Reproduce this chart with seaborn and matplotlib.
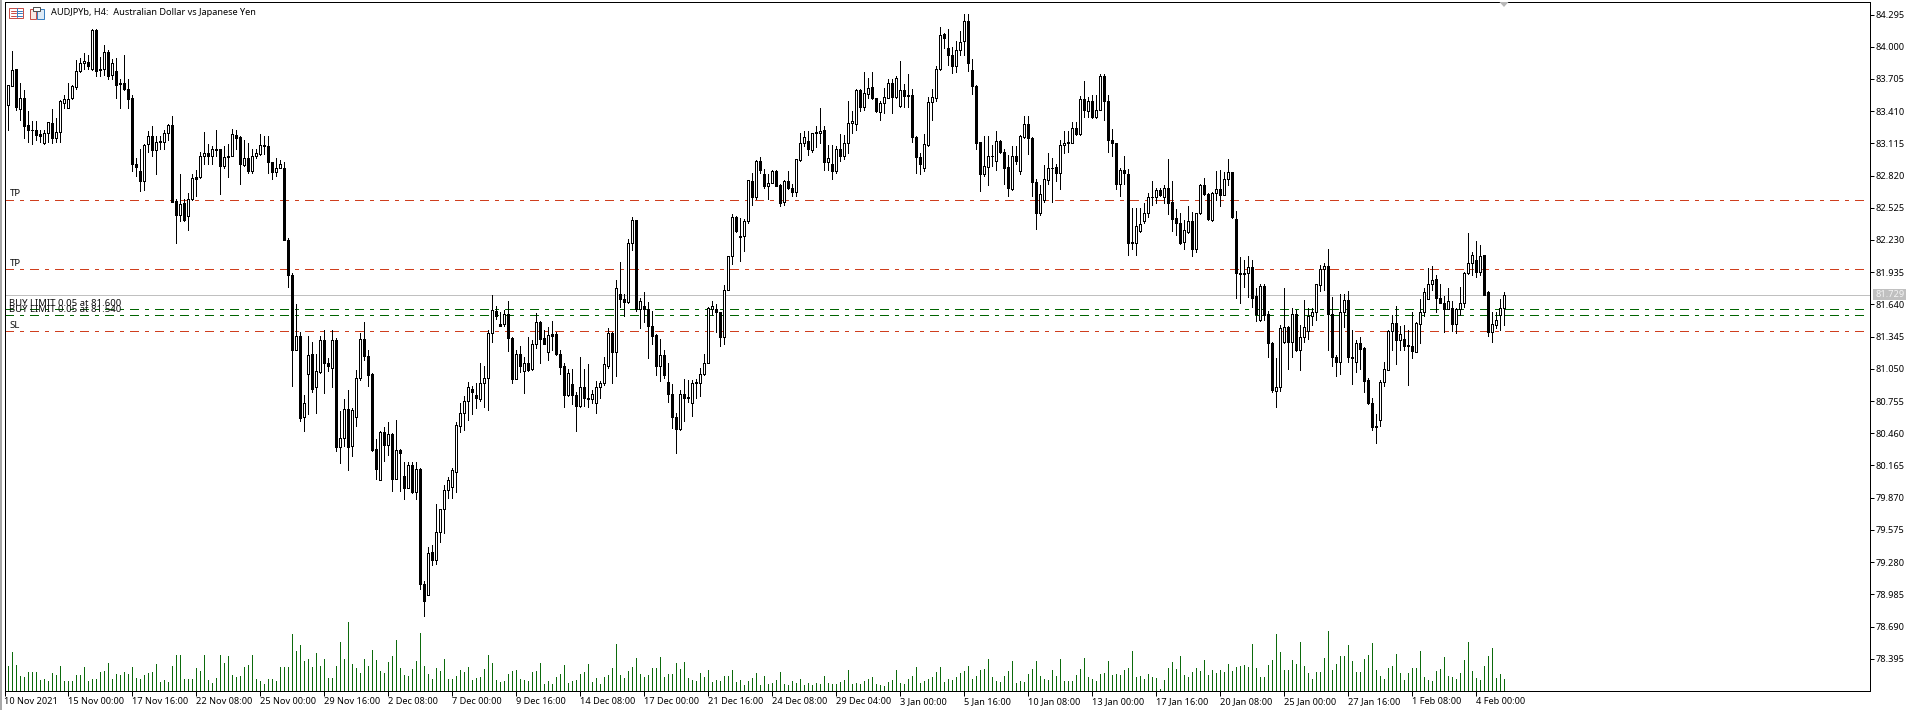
import numpy as np
import pandas as pd
import seaborn as sns
from matplotlib import pyplot as plt
from matplotlib.patches import Polygon, Rectangle

# AUDJPYb H4 candles
opens = [
    83.47,83.47,83.64,83.80,83.43,83.53,83.28,83.24,83.24,83.20,
    83.12,83.21,83.30,83.16,83.22,83.48,83.44,83.53,83.63,83.78,
    83.85,83.86,83.80,84.15,83.80,83.80,83.95,83.74,83.78,83.66,
    83.67,83.61,83.53,82.93,82.86,82.77,83.11,83.18,83.05,83.14,
    83.13,83.21,83.28,82.59,82.46,82.57,82.45,82.61,82.81,82.81,
    83.00,83.03,83.00,83.06,83.06,82.91,83.00,83.00,83.19,83.17,
    82.92,82.98,82.86,83.00,83.02,83.10,83.09,82.94,82.85,82.89,
    82.89,82.23,81.91,81.22,81.35,80.61,81.00,81.19,80.88,81.02,
    81.31,81.10,81.06,81.31,80.33,80.42,80.68,80.34,80.61,80.97,
    81.32,81.17,81.00,80.32,80.03,80.47,80.35,80.45,80.04,80.31,
    80.07,79.96,80.17,79.92,80.13,79.08,78.98,79.37,79.30,79.56,
    79.77,79.94,79.97,80.11,80.53,80.65,80.76,80.87,80.81,80.77,
    80.92,80.97,81.38,81.58,81.46,81.46,81.55,81.33,80.96,81.19,
    81.03,81.10,81.05,81.28,81.48,81.33,81.20,81.37,81.37,81.19,
    81.08,80.81,80.91,80.81,80.71,80.88,80.78,80.77,80.74,80.88,
    80.92,81.08,81.38,81.20,81.74,81.69,81.66,82.20,82.41,81.60,
    81.63,81.60,81.44,81.36,81.08,81.18,80.93,80.82,80.61,80.50,
    80.82,80.79,80.74,80.93,80.92,81.00,81.10,81.60,81.60,81.57,
    81.34,81.77,82.08,82.44,82.27,82.27,82.40,82.77,82.62,82.95,
    82.83,82.72,82.75,82.86,82.73,82.58,82.77,82.71,82.67,82.96,
    83.12,83.14,83.05,83.22,83.21,83.24,82.94,82.93,82.86,83.06,
    83.00,83.12,83.30,83.29,83.60,83.45,83.57,83.63,83.53,83.40,
    83.48,83.53,83.67,83.54,83.46,83.60,83.56,83.56,83.17,82.99,
    82.89,83.10,83.49,83.53,83.80,84.12,83.99,83.92,83.82,83.97,
    84.05,84.24,83.79,83.64,83.13,82.83,82.90,82.995,82.95,83.14,
    83.04,82.90,82.70,83.00,82.86,83.17,83.29,83.16,82.76,82.48,
    82.60,82.78,82.89,82.90,82.84,83.10,83.13,83.12,83.26,83.20,
    83.52,83.41,83.50,83.36,83.42,83.73,83.50,83.15,83.12,82.74,
    82.87,82.83,82.21,82.20,82.31,82.40,82.48,82.62,82.62,82.69,
    82.62,82.71,82.58,82.43,82.39,82.21,82.30,82.40,82.15,82.48,
    82.73,82.65,82.41,82.66,82.70,82.64,82.79,82.85,82.42,81.93,
    81.93,81.93,81.98,81.72,81.50,81.81,81.55,81.29,80.85,80.88,
    81.30,81.43,81.30,81.55,81.22,81.34,81.40,81.53,81.57,81.82,
    81.96,81.99,81.55,81.16,81.11,81.57,81.68,81.16,81.11,81.29,
    81.24,80.95,80.74,80.53,80.58,80.93,81.04,81.40,81.47,81.31,
    81.32,81.27,81.26,81.20,81.46,81.57,81.69,81.83,81.87,81.70,
    81.65,81.60,81.61,81.46,81.60,81.65,81.93,82.02,82.05,81.94,
    82.09,81.75,81.39,81.45,81.54,81.61,
]
highs = [
    83.48,83.65,83.96,83.80,83.67,83.60,83.41,83.32,83.32,83.24,
    83.24,83.31,83.43,83.35,83.51,83.56,83.67,83.65,83.88,83.90,
    83.94,83.92,84.16,84.16,83.91,84.02,83.97,83.89,83.90,83.70,
    83.92,83.70,83.56,82.98,83.06,83.11,83.23,83.27,83.18,83.18,
    83.24,83.29,83.37,82.61,82.83,82.61,82.66,82.83,82.87,83.04,
    83.22,83.11,83.09,83.24,83.06,83.09,83.11,83.25,83.24,83.18,
    83.15,83.12,83.06,83.06,83.20,83.18,83.18,82.94,82.98,82.96,
    82.94,82.25,81.93,81.64,81.39,80.81,81.35,81.30,81.19,81.35,
    81.41,81.15,81.41,81.33,80.66,80.77,80.86,80.69,81.04,81.38,
    81.48,81.22,81.01,80.41,80.48,80.52,80.56,80.46,80.58,80.32,
    80.20,80.20,80.20,80.20,80.14,79.11,79.42,79.44,79.81,79.77,
    79.99,80.06,80.14,80.56,80.74,80.80,80.93,80.89,80.92,81.10,
    81.08,81.41,81.73,81.63,81.57,81.59,81.67,81.34,81.22,81.26,
    81.16,81.34,81.31,81.56,81.49,81.41,81.43,81.49,81.39,81.22,
    81.10,81.05,81.05,80.84,81.16,81.05,81.09,80.86,80.94,80.94,
    81.16,81.42,81.39,81.86,82.03,81.74,82.24,82.44,82.41,81.70,
    81.75,81.66,81.58,81.37,81.32,81.22,81.10,80.91,80.65,80.86,
    80.96,80.95,80.95,80.96,81.06,81.19,81.62,81.67,81.64,81.57,
    81.82,82.08,82.47,82.45,82.43,82.42,82.78,82.84,82.96,82.99,
    82.88,82.83,82.87,82.87,82.74,82.78,82.86,82.74,82.97,83.21,
    83.23,83.23,83.21,83.27,83.44,83.27,83.10,83.10,83.09,83.20,
    83.19,83.50,83.41,83.61,83.61,83.77,83.71,83.77,83.53,83.50,
    83.62,83.70,83.70,83.73,83.87,83.66,83.75,83.61,83.18,83.03,
    83.20,83.54,83.61,83.82,84.18,84.13,84.16,84.00,84.05,84.14,
    84.30,84.30,83.89,83.65,83.13,83.18,83.18,83.10,83.23,83.15,
    83.06,83.01,83.09,83.09,83.19,83.37,83.37,83.17,82.79,82.73,
    82.92,83.03,82.98,82.93,83.15,83.23,83.23,83.31,83.31,83.55,
    83.69,83.54,83.56,83.56,83.75,83.75,83.56,83.25,83.12,82.89,
    83.00,82.88,82.52,82.52,82.52,82.57,82.66,82.77,82.71,82.71,
    82.73,82.97,82.77,82.51,82.48,82.41,82.54,82.49,82.48,82.74,
    82.80,82.66,82.67,82.86,82.87,82.85,82.97,82.85,82.50,82.07,
    82.05,82.08,82.05,81.79,81.83,81.83,81.58,81.30,81.15,81.45,
    81.79,81.44,81.61,81.59,81.45,81.68,81.61,81.61,81.83,82.00,
    82.02,82.15,81.71,81.18,81.74,81.74,81.76,81.41,81.31,81.34,
    81.25,80.97,80.78,80.64,80.95,81.11,81.41,81.54,81.63,81.44,
    81.45,81.41,81.57,81.48,81.69,81.79,81.97,81.99,81.91,81.83,
    81.72,81.79,81.67,81.61,81.80,81.94,82.29,82.12,82.22,82.18,
    82.09,81.76,81.57,81.57,81.69,81.75,
]
lows = [
    83.02,83.24,83.64,83.42,83.33,83.16,83.13,83.11,83.15,83.13,
    83.11,83.13,83.12,83.13,83.13,83.44,83.44,83.52,83.61,83.77,
    83.80,83.80,83.79,83.73,83.73,83.74,83.70,83.70,83.53,83.44,
    83.60,83.44,82.86,82.82,82.68,82.69,83.04,83.00,82.83,83.06,
    83.06,83.15,82.58,82.20,82.40,82.40,82.32,82.60,82.63,82.80,
    82.93,82.93,82.93,83.00,82.65,82.89,82.81,83.00,83.06,82.74,
    82.91,82.84,82.84,82.98,83.01,83.02,82.84,82.79,82.82,82.89,
    82.23,81.80,80.89,81.22,80.57,80.48,80.64,80.84,80.65,81.01,
    80.83,81.03,80.88,80.30,80.19,80.34,80.12,80.25,80.53,80.95,
    81.13,80.89,80.30,80.04,80.03,80.21,80.26,79.93,80.04,79.93,
    79.86,79.96,79.91,79.86,79.03,78.79,78.98,79.25,79.26,79.46,
    79.55,79.87,79.87,79.92,80.47,80.49,80.58,80.64,80.69,80.76,
    80.70,80.67,81.30,81.51,81.44,81.44,81.21,80.92,80.96,81.02,
    80.83,81.03,81.04,81.24,81.10,81.28,81.13,81.22,81.18,81.00,
    80.70,80.80,80.73,80.48,80.70,80.71,80.70,80.74,80.65,80.78,
    80.90,81.06,80.92,80.98,81.62,81.53,81.65,82.14,81.58,81.42,
    81.48,81.15,81.28,80.99,80.94,80.97,80.75,80.51,80.28,80.49,
    80.57,80.75,80.62,80.78,80.80,80.99,81.10,81.54,81.39,81.26,
    81.28,81.77,82.01,82.30,82.04,82.13,82.39,82.55,82.61,82.84,
    82.71,82.61,82.75,82.72,82.54,82.55,82.70,82.63,82.63,82.95,
    83.09,83.01,83.04,83.08,83.12,82.87,82.87,82.79,82.84,82.95,
    82.97,83.03,83.21,83.24,83.41,83.42,83.53,83.52,83.40,83.33,
    83.39,83.53,83.39,83.53,83.45,83.45,83.45,83.13,82.84,82.83,
    82.86,83.09,83.33,83.50,83.79,83.99,83.83,83.76,83.77,83.92,
    83.92,83.78,83.57,83.06,82.68,82.82,82.73,82.91,82.87,83.03,
    82.74,82.63,82.69,82.93,82.83,83.16,83.02,82.63,82.33,82.46,
    82.58,82.74,82.58,82.77,82.70,83.03,83.04,83.12,83.19,83.19,
    83.36,83.36,83.35,83.35,83.42,83.33,83.04,83.00,82.70,82.63,
    82.74,82.09,82.15,82.09,82.30,82.39,82.44,82.55,82.57,82.63,
    82.57,82.47,82.31,82.28,82.19,82.15,82.29,82.08,82.12,82.47,
    82.64,82.41,82.40,82.60,82.54,82.64,82.73,82.43,81.70,81.65,
    81.80,81.71,81.62,81.49,81.49,81.50,81.16,80.84,80.70,80.85,
    81.29,81.05,81.16,81.21,81.04,81.30,81.32,81.45,81.50,81.76,
    81.77,81.22,81.08,80.98,81.00,81.43,81.11,80.91,81.02,81.05,
    80.84,80.73,80.49,80.37,80.53,80.89,81.04,81.22,81.09,81.22,
    81.22,80.90,81.15,81.20,81.29,81.53,81.69,81.77,81.57,81.65,
    81.39,81.60,81.40,81.38,81.54,81.62,81.92,81.91,81.89,81.91,
    81.73,81.35,81.30,81.42,81.41,81.45,
]
closes = [
    83.02,83.65,83.79,83.45,83.53,83.27,83.24,83.235,83.19,83.18,
    83.21,83.31,83.16,83.22,83.50,83.52,83.52,83.64,83.78,83.85,
    83.87,83.82,84.15,83.78,83.79,83.95,83.73,83.85,83.65,83.67,
    83.61,83.52,82.93,82.90,82.77,83.10,83.18,83.05,83.13,83.13,
    83.21,83.28,82.58,82.46,82.56,82.41,82.61,82.80,82.79,83.00,
    83.03,83.00,83.06,83.05,82.91,82.99,82.99,83.20,83.16,82.93,
    82.98,82.86,83.00,83.03,83.10,83.09,82.94,82.85,82.89,82.93,
    82.23,81.91,81.22,81.35,80.60,80.74,81.18,80.87,81.03,81.31,
    81.10,81.08,81.31,80.33,80.42,80.68,80.33,80.67,80.97,81.32,
    81.17,80.99,80.31,80.13,80.47,80.35,80.45,80.04,80.31,80.28,
    79.96,80.17,79.92,80.13,79.08,78.92,79.36,79.30,79.56,79.77,
    79.94,80.03,80.12,80.54,80.65,80.76,80.88,80.84,80.78,80.92,
    80.97,81.38,81.59,81.53,81.44,81.55,81.33,80.96,81.19,81.08,
    81.10,81.04,81.28,81.48,81.32,81.28,81.36,81.35,81.19,81.07,
    80.81,81.01,80.81,80.71,80.88,80.78,80.77,80.82,80.88,80.92,
    81.09,81.38,81.20,81.79,81.69,81.66,82.20,82.41,81.60,81.67,
    81.60,81.44,81.35,81.08,81.18,80.99,80.82,80.61,80.50,80.82,
    80.78,80.78,80.92,80.92,81.00,81.10,81.61,81.63,81.57,81.34,
    81.77,82.08,82.44,82.31,82.26,82.40,82.78,82.62,82.95,82.87,
    82.72,82.75,82.86,82.72,82.57,82.77,82.71,82.67,82.97,83.12,
    83.17,83.06,83.21,83.21,83.23,82.94,82.98,82.86,83.06,83.00,
    83.12,83.30,83.32,83.60,83.45,83.58,83.62,83.53,83.41,83.48,
    83.54,83.67,83.54,83.71,83.60,83.55,83.55,83.17,82.99,82.93,
    83.11,83.49,83.54,83.80,84.11,84.08,83.92,83.82,83.97,84.04,
    84.24,83.85,83.64,83.12,82.83,82.91,83.00,83.00,83.14,83.04,
    82.89,82.71,83.00,82.95,83.18,83.29,83.16,82.76,82.48,82.65,
    82.79,82.89,82.885,82.84,83.10,83.12,83.12,83.26,83.20,83.52,
    83.42,83.50,83.36,83.42,83.73,83.50,83.15,83.12,82.74,82.87,
    82.84,82.20,82.20,82.36,82.38,82.48,82.62,82.625,82.69,82.64,
    82.71,82.57,82.42,82.39,82.20,82.32,82.40,82.15,82.48,82.73,
    82.65,82.42,82.66,82.70,82.64,82.79,82.85,82.44,81.93,81.92,
    81.92,81.98,81.70,81.55,81.81,81.54,81.29,80.86,80.88,81.42,
    81.43,81.30,81.55,81.22,81.34,81.43,81.53,81.57,81.83,81.96,
    81.99,81.55,81.16,81.11,81.57,81.68,81.16,81.15,81.29,81.23,
    80.94,80.74,80.52,80.52,80.93,81.05,81.40,81.47,81.31,81.37,
    81.26,81.26,81.21,81.47,81.57,81.75,81.83,81.86,81.70,81.65,
    81.60,81.67,81.46,81.60,81.65,81.93,82.02,82.09,81.94,82.08,
    81.73,81.39,81.46,81.50,81.61,81.73,
]
# tick volume, only the relative heights can be read
volumes = [
    55,73,115,76,43,40,55,55,55,31,
    34,28,52,46,73,28,28,28,46,46,
    70,28,34,34,55,58,82,34,49,46,
    55,49,70,37,34,46,52,55,79,25,
    31,25,73,106,106,34,34,34,67,58,
    106,31,22,37,106,82,103,46,40,43,
    70,76,106,34,28,19,34,34,28,70,
    70,70,169,118,136,88,94,70,112,73,
    94,37,37,73,145,94,205,79,67,52,
    94,73,121,91,58,52,85,103,151,67,
    46,43,64,88,172,73,49,34,67,58,
    94,34,34,43,61,55,70,31,37,40,
    64,106,84,33,25,28,49,58,61,36,
    33,30,55,58,82,19,30,19,40,49,
    76,22,28,31,49,55,79,25,37,19,
    40,46,67,139,46,37,58,70,97,49,
    40,46,67,67,100,40,49,49,82,64,
    85,37,31,28,52,40,61,25,31,28,
    43,43,61,25,31,16,28,37,52,16,
    43,19,22,31,55,19,16,28,22,34,
    16,22,16,22,19,43,22,19,19,25,
    31,61,19,22,19,30,36,40,19,16,
    13,25,31,61,22,19,34,43,70,22,
    28,34,40,55,70,25,34,31,40,52,
    58,73,34,43,61,64,94,40,28,25,
    43,58,88,22,28,25,49,64,88,43,
    34,31,61,43,94,28,28,28,46,64,
    97,40,34,28,49,52,88,46,49,46,
    61,67,118,40,43,34,49,40,37,4,
    31,67,85,64,103,46,40,55,67,58,
    91,46,61,52,61,55,79,58,70,73,
    76,70,139,67,40,40,76,91,169,115,
    61,61,91,79,145,73,52,34,55,55,
    97,178,61,79,103,103,136,88,55,55,
    94,106,142,61,43,34,67,73,109,52,
    31,52,67,67,118,40,31,28,58,64,
    100,43,40,34,52,91,145,58,37,31,
    73,103,127,37,49,34,
]

time_labels = [
    "10 Nov 2021", "15 Nov 00:00", "17 Nov 16:00", "22 Nov 08:00", "25 Nov 00:00",
    "29 Nov 16:00", "2 Dec 08:00", "7 Dec 00:00", "9 Dec 16:00", "14 Dec 08:00",
    "17 Dec 00:00", "21 Dec 16:00", "24 Dec 08:00", "29 Dec 04:00", "3 Jan 00:00",
    "5 Jan 16:00", "10 Jan 08:00", "13 Jan 00:00", "17 Jan 16:00", "20 Jan 08:00",
    "25 Jan 00:00", "27 Jan 16:00", "1 Feb 08:00", "4 Feb 00:00",
]
price_ticks = [
    84.295, 84.000, 83.705, 83.410, 83.115, 82.820, 82.525, 82.230, 81.935, 81.640, 81.345,
    81.050, 80.755, 80.460, 80.165, 79.870, 79.575, 79.280, 78.985, 78.690, 78.395,
]
take_profits = [82.60, 81.96]
stop_loss = 81.40
buy_limits = [81.600, 81.545]
last_price = 81.729

W, H = 1915, 710
PX = 0.72  # one pixel in points at dpi 100
RED, GREEN, VOLUME_GREEN = "#cf3f1e", "#006400", "#0c6a0c"
FONT = "Noto Sans"
DASHDOT = (0, (9 * PX, 6 * PX, 3 * PX, 6 * PX))

sns.set_theme(style="white")
plt.rcParams["font.family"] = FONT
plt.rcParams["lines.scale_dashes"] = False

df = pd.DataFrame({"open": opens, "high": highs, "low": lows, "close": closes, "volume": volumes})
df["bar"] = df.index

fig = plt.figure(figsize=(W / 100, H / 100), dpi=100, facecolor="white")
rect = [4.5 / W, (H - 690.5) / H, (1870.5 - 4.5) / W, (690.5 - 1.5) / H]
xlim = ((4.5 - 4.4) / 4, (1870.5 - 4.4) / 4)

# volume sits under the candles, same x scale
vol_ax = fig.add_axes(rect, facecolor="white")
sns.barplot(data=df, x="bar", y="volume", native_scale=True, width=0.25, color=VOLUME_GREEN,
            saturation=1, linewidth=0, errorbar=None, ax=vol_ax)
for patch in vol_ax.patches:
    patch.set_antialiased(False)
vol_ax.set_xlim(xlim)
vol_ax.set_ylim(0, 689 * 3)
vol_ax.axis("off")

ax = fig.add_axes(rect, facecolor="none")
ax.set_xlim(xlim)
ax.set_ylim(84.295 - (690.5 - 14.5) / 109.2, 84.295 + (14.5 - 1.5) / 109.2)

for level in take_profits + [stop_loss]:
    ax.axhline(level, color=RED, lw=PX, ls=DASHDOT, zorder=1, antialiased=False)
for level in buy_limits:
    ax.axhline(level, color=GREEN, lw=PX, ls=DASHDOT, zorder=1, antialiased=False)
ax.axhline(last_price, color="#c0c0c0", lw=PX, zorder=1, antialiased=False)

ax.vlines(df["bar"], df["low"], df["high"], color="black", lw=PX, zorder=2, antialiased=False)
body_low = df[["open", "close"]].min(axis=1)
body_size = (df["close"] - df["open"]).abs()
body_color = np.where(df["close"] >= df["open"], "white", "black")
ax.bar(df["bar"], body_size, bottom=body_low, width=0.5, color=body_color,
       edgecolor="black", linewidth=PX, zorder=3, antialiased=False)

ax.set_yticks(price_ticks, [f"{p:.3f}" for p in price_ticks], fontsize=6.6, color="black")
ax.yaxis.tick_right()
ax.tick_params(axis="y", length=4 * PX, width=PX, color="black", pad=1, right=True, left=False)
ax.set_xticks(range(0, len(time_labels) * 16, 16), time_labels, fontsize=6.6, color="black", ha="left")
ax.tick_params(axis="x", length=4.5 * PX, width=PX, color="black", pad=1.5, bottom=True)
for tick in ax.get_xticklabels():
    tick.set_ha("left")
for side in ax.spines.values():
    side.set_visible(True)
    side.set_color("black")
    side.set_linewidth(PX)

# order labels sit just above their lines at the left edge
order_labels = [
    ("TP", take_profits[0]), ("TP", take_profits[1]), ("SL", stop_loss),
    ("BUY LIMIT 0.05 at 81.600", 81.600), ("BUY LIMIT 0.05 at 81.540", buy_limits[1]),
]
for label, level in order_labels:
    ax.annotate(label, xy=(1.25, level), xytext=(0, 0.8), textcoords="offset points",
                fontsize=6.9, color="#101010", va="bottom", ha="left", zorder=5)

# pixel overlay for window furniture
over = fig.add_axes([0, 0, 1, 1], facecolor="none")
over.set_xlim(0, W)
over.set_ylim(H, 0)
over.axis("off")
over.add_patch(Rectangle((0, 0), 1.6, H, color="#a8a8a8", lw=0))
over.text(51, 12.5, "AUDJPYb, H4:  Australian Dollar vs Japanese Yen", fontsize=6.6,
          color="black", va="center", ha="left")

# chart window icons
over.add_patch(Rectangle((9.5, 7.5), 14, 10, fc="white", ec="#c8504a", lw=PX))
for yy in (10.5, 13, 15.5):
    over.plot([11, 16], [yy, yy], color="#c8504a", lw=PX)
    over.plot([17.5, 22.5], [yy, yy], color="#3a7fc0", lw=PX)
over.plot([16.7, 16.7], [8, 17], color="#3a7fc0", lw=PX)
over.add_patch(Rectangle((30.5, 8.5), 6, 10, fc="#f8e8e4", ec="#c8504a", lw=PX))
over.add_patch(Rectangle((37.5, 8.5), 7, 10, fc="#ddeaf6", ec="#3a7fc0", lw=PX))
over.add_patch(Rectangle((33.5, 6.5), 7, 4, fc="white", ec="#505050", lw=PX))

# last price tag on the scale and the grey shift marker at the top
over.add_patch(Rectangle((1873, 289), 33.5, 11, color="#c0c0c0", lw=0, zorder=4))
over.text(1876, 294.5, f"{last_price:.3f}", fontsize=6.6, color="#f4f4f4", va="center", ha="left", zorder=5)
over.add_patch(Polygon([(1499.5, 2), (1508.5, 2), (1504, 7)], closed=True, color="#b8b8b8", lw=0))

fig.savefig("out.png", dpi=100, facecolor="white")
